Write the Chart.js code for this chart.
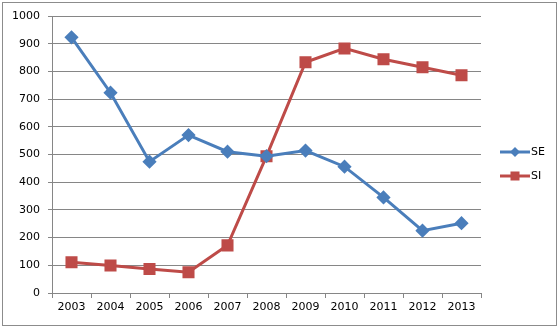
<!DOCTYPE html>
<html>
<head>
<meta charset="utf-8">
<script src="https://cdn.jsdelivr.net/npm/chart.js@4/dist/chart.umd.min.js"></script>
<style>
  html, body { margin: 0; padding: 0; background: #fff; }
  #wrap { width: 559px; height: 328px; position: relative; }
</style>
</head>
<body>
<div id="wrap"><canvas id="chart"></canvas></div>
<script>
const years = ["2003", "2004", "2005", "2006", "2007", "2008", "2009", "2010", "2011", "2012", "2013"];
const seValues = [923, 723, 474, 570, 510, 494, 514, 456, 345, 225, 252];
const siValues = [111, 99, 87, 75, 172, 494, 833, 883, 844, 815, 786];
const seriesNames = ["SE", "SI"];

const blue = "#4A7EBB";
const red = "#BE4B48";
const gridGray = "#868686";

// white background plus the thin frame round the whole chart
const frame = {
  id: "frame",
  beforeDraw(chart) {
    const c = chart.ctx;
    c.save();
    c.fillStyle = "#fff";
    c.fillRect(0, 0, chart.width, chart.height);
    c.strokeStyle = "#8c8c8c";
    c.lineWidth = 1;
    c.strokeRect(2.5, 2.5, chart.width - 5, chart.height - 5);
    c.restore();
  },
};

// legend on the right: short line with the marker on it, then the name
const sideLegend = {
  id: "sideLegend",
  afterDraw(chart) {
    const c = chart.ctx;
    c.save();
    chart.data.datasets.forEach((ds, i) => {
      const y = 152 + i * 24;
      c.strokeStyle = ds.borderColor;
      c.lineWidth = 3;
      c.beginPath();
      c.moveTo(500, y);
      c.lineTo(530, y);
      c.stroke();
      c.fillStyle = ds.backgroundColor;
      if (ds.pointStyle === "rect") {
        c.fillRect(515 - 4.5, y - 4.5, 9, 9);
      } else {
        c.beginPath();
        c.moveTo(515, y - 5);
        c.lineTo(520, y);
        c.lineTo(515, y + 5);
        c.lineTo(510, y);
        c.closePath();
        c.fill();
      }
      c.fillStyle = "#000";
      c.font = "11px 'DejaVu Sans'";
      c.textBaseline = "middle";
      c.fillText(ds.label, 531, y);
    });
    c.restore();
  },
};

new Chart(document.getElementById("chart"), {
  type: "line",
  data: {
    labels: years,
    datasets: [
      {
        label: seriesNames[0],
        data: seValues,
        borderColor: blue,
        backgroundColor: blue,
        borderWidth: 3,
        pointStyle: "rectRot",
        pointRadius: 5,
        pointHoverRadius: 5,
        tension: 0,
      },
      {
        label: seriesNames[1],
        data: siValues,
        borderColor: red,
        backgroundColor: red,
        borderWidth: 3,
        pointStyle: "rect",
        pointRadius: 6.4,
        pointHoverRadius: 6.4,
        tension: 0,
      },
    ],
  },
  options: {
    responsive: true,
    maintainAspectRatio: false,
    animation: false,
    layout: {
      padding: { left: 0, right: 78, top: 16, bottom: 3 },
    },
    scales: {
      x: {
        offset: true,
        grid: {
          offset: true,
          drawOnChartArea: false,
          color: gridGray,
          tickLength: 5,
        },
        border: { color: gridGray },
        ticks: {
          color: "#000",
          font: { family: "DejaVu Sans", size: 11 },
          maxRotation: 0,
          padding: 3,
        },
        afterFit: (scale) => {
          scale.height = 32;
        },
      },
      y: {
        min: 0,
        max: 1000,
        grid: {
          color: gridGray,
          tickLength: 4,
        },
        border: { color: gridGray },
        ticks: {
          stepSize: 100,
          color: "#000",
          font: { family: "DejaVu Sans", size: 11 },
          padding: 8,
          callback: function (value) {
            return String(value);
          },
        },
        afterFit: (scale) => {
          scale.width = 52;
        },
      },
    },
    plugins: {
      legend: { display: false },
      tooltip: { enabled: false },
    },
  },
  plugins: [frame, sideLegend],
});
</script>
</body>
</html>
